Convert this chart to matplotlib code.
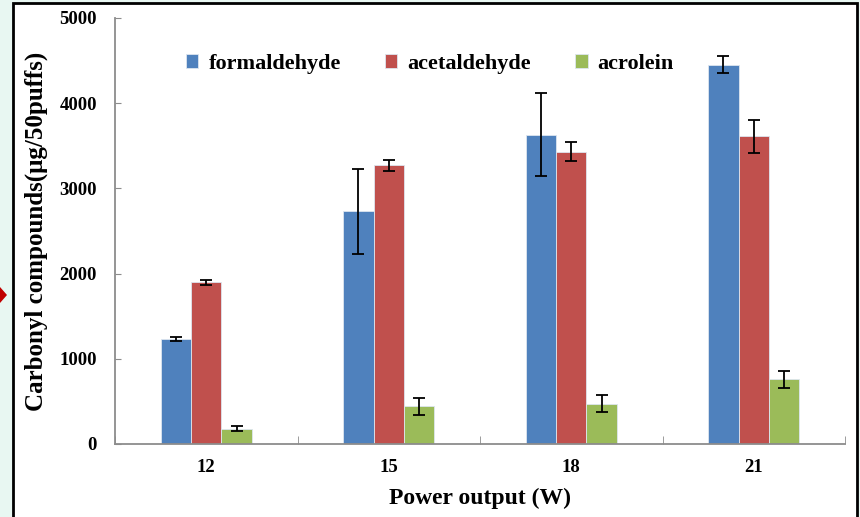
import numpy as np
import matplotlib.pyplot as plt
from matplotlib.patches import Rectangle, Polygon

# carbonyl yields per 50 puffs at each power setting
power = ['12', '15', '18', '21']
formaldehyde = [1230, 2730, 3630, 4450]
formaldehyde_err = [25, 500, 490, 100]
acetaldehyde = [1900, 3270, 3430, 3610]
acetaldehyde_err = [30, 60, 110, 190]
acrolein = [180, 445, 470, 760]
acrolein_err = [30, 100, 100, 100]

series = [
    ('formaldehyde', formaldehyde, formaldehyde_err, '#4F81BD'),
    ('acetaldehyde', acetaldehyde, acetaldehyde_err, '#C0504D'),
    ('acrolein', acrolein, acrolein_err, '#9BBB59'),
]

plt.rcParams['font.family'] = ['Liberation Serif', 'DejaVu Serif']
plt.rcParams['font.weight'] = 'bold'

fig = plt.figure(figsize=(8.6, 5.17), dpi=100)
fig.patch.set_facecolor('#e8f7f2')

# white panel with black frame
fig.patches.append(Rectangle((13 / 860, -0.05), (857 - 13) / 860, 1 - 3 / 517 + 0.05,
                             transform=fig.transFigure, facecolor='white',
                             edgecolor='black', linewidth=2, zorder=-2))
# small red marker on the left edge
fig.patches.append(Polygon([(0, 1 - 287 / 517), (7 / 860, 1 - 295 / 517), (0, 1 - 303 / 517)],
                           closed=True, transform=fig.transFigure,
                           facecolor='#c00000', edgecolor='none', zorder=-1))

ax = fig.add_axes([115 / 860, 1 - 444 / 517, (845 - 115) / 860, (444 - 18) / 517])
ax.set_zorder(2)
ax.set_facecolor('none')

x = np.arange(len(power))
w = 0.167
for i, (name, vals, errs, col) in enumerate(series):
    ax.bar(x + (i - 1) * w, vals, w, color=col, edgecolor='#dde6f0', linewidth=0.6,
           label=name, zorder=2)
    ax.errorbar(x + (i - 1) * w, vals, yerr=errs, fmt='none', ecolor='black',
                elinewidth=1.3, capsize=4, capthick=1.3, zorder=3)

ax.set_xlim(-0.5, 3.5)
ax.set_ylim(0, 5000)
ax.set_yticks(np.arange(0, 5001, 1000))
ax.set_xticks(x)
ax.set_xticklabels(power)
ax.set_xticks(np.arange(-0.5, 3.6, 1), minor=True)

for side in ['top', 'right']:
    ax.spines[side].set_visible(False)
for side in ['left', 'bottom']:
    ax.spines[side].set_color('#8c8c8c')
    ax.spines[side].set_linewidth(1.3)

ax.tick_params(axis='y', direction='in', length=4, color='#8c8c8c', pad=13, labelsize=13.5)
ax.tick_params(axis='x', which='major', length=0, pad=11, labelsize=13.5)
ax.tick_params(axis='x', which='minor', direction='in', length=6, color='#8c8c8c')

ax.set_ylabel('Carbonyl compounds(μg/50puffs)', fontsize=18, fontweight='bold', labelpad=8)
ax.set_xlabel('Power output (W)', fontsize=17, fontweight='bold', labelpad=8)

ax.legend(loc='center', bbox_to_anchor=(0.4315, 0.892), ncol=3, frameon=False,
          fontsize=16, handlelength=0.55, handleheight=0.55, handletextpad=0.45,
          columnspacing=2.0)

fig.savefig('out.png', dpi=100, facecolor=fig.get_facecolor())
